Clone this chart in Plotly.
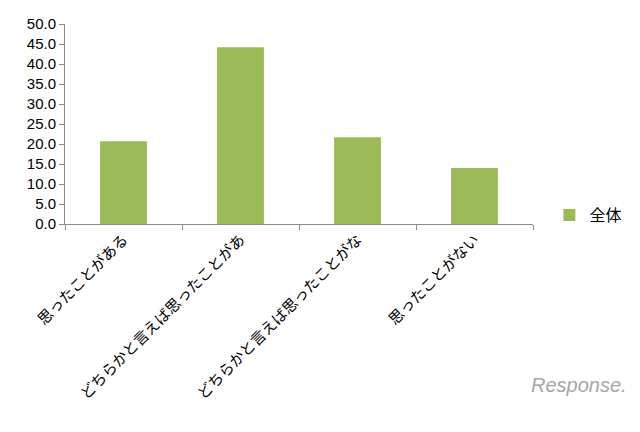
import plotly.graph_objects as go

categories = ["思ったことがある", "どちらかと言えば思ったことがあ", "どちらかと言えば思ったことがな", "思ったことがない"]
values = [20.7, 44.2, 21.7, 14.0]
series_name = "全体"
y_tickvals = [0, 5, 10, 15, 20, 25, 30, 35, 40, 45, 50]
y_ticktext = ["0.0", "5.0", "10.0", "15.0", "20.0", "25.0", "30.0", "35.0", "40.0", "45.0", "50.0"]

font_family = "Noto Sans CJK JP, Noto Sans, sans-serif"

fig = go.Figure()
fig.add_trace(go.Bar(x=categories, y=values, name=series_name,
                     marker=dict(color="#9bbb59", line=dict(width=0))))

fig.update_layout(
    width=640, height=432,
    margin=dict(l=65, r=107, t=24, b=208, autoexpand=False),
    paper_bgcolor="white", plot_bgcolor="white",
    bargap=0.6,
    showlegend=True,
    legend=dict(x=1.035, y=0.045, xanchor="left", yanchor="middle",
                font=dict(family=font_family, size=16, color="#000000"),
                bgcolor="rgba(0,0,0,0)", itemwidth=30),
    font=dict(family=font_family, color="#000000"),
    annotations=[dict(text="<i>Response.</i>", x=1.205, y=-0.87, xref="paper", yref="paper",
                      xanchor="right", yanchor="bottom", showarrow=False,
                      font=dict(family="Liberation Sans, sans-serif", size=20, color="#a6a6a6"))]
)
fig.update_xaxes(type="category", showline=True, linecolor="#8c8c8c", linewidth=1,
                 ticks="outside", tickson="boundaries", ticklen=5, tickcolor="#8c8c8c",
                 tickangle=-45, tickfont=dict(family=font_family, size=15, color="#000000"),
                 showgrid=False, automargin=False)
fig.update_yaxes(range=[0, 50], tickvals=y_tickvals, ticktext=y_ticktext,
                 showline=True, linecolor="#8c8c8c", linewidth=1,
                 ticks="outside", ticklen=5, tickcolor="#8c8c8c",
                 tickfont=dict(family="Liberation Sans, sans-serif", size=15, color="#000000"),
                 showgrid=False, zeroline=False, automargin=False)

fig.write_html("out.html", config={"displayModeBar": False},
               post_script="document.body.style.margin='0';document.body.style.overflow='hidden';")
